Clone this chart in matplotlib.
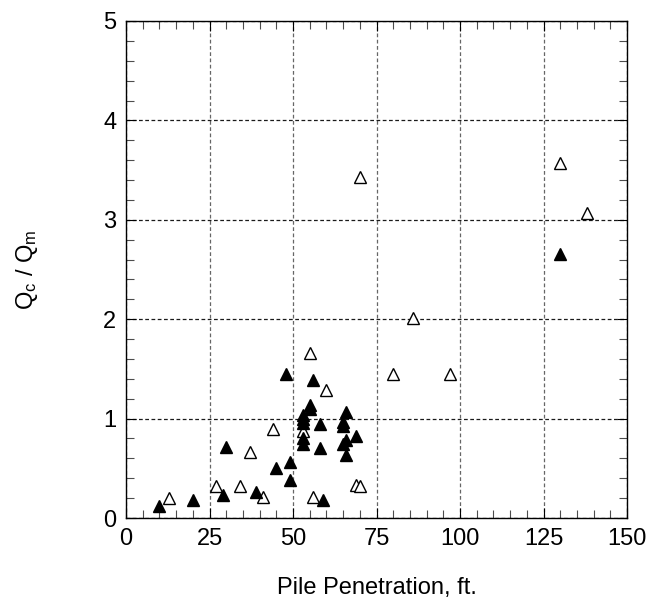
import matplotlib
matplotlib.use("Agg")
import matplotlib.pyplot as plt
from matplotlib.ticker import MultipleLocator

plt.rcParams['font.family'] = ['Liberation Sans', 'DejaVu Sans']
plt.rcParams['mathtext.default'] = 'regular'

# Solid triangles
solid_x = [10, 20, 29, 30, 39, 45, 48, 49, 49, 53, 53, 53, 53, 53, 55, 55, 56,
           58, 58, 59, 65, 65, 66, 65, 66, 66, 69, 130]
solid_y = [0.125, 0.185, 0.235, 0.71, 0.26, 0.50, 1.45, 0.56, 0.38, 1.04, 1.00,
           0.96, 0.80, 0.74, 1.14, 1.10, 1.39, 0.95, 0.70, 0.18, 0.97, 0.93,
           1.07, 0.74, 0.78, 0.63, 0.82, 2.66]

# Open triangles
open_x = [13, 27, 34, 37, 41, 44, 53, 55, 56, 60, 69, 70, 70, 80, 86, 97, 130, 138]
open_y = [0.205, 0.32, 0.32, 0.665, 0.21, 0.895, 0.88, 1.66, 0.21, 1.285, 0.335,
          0.325, 3.43, 1.45, 2.01, 1.45, 3.575, 3.07]

x_ticks = [0, 25, 50, 75, 100, 125, 150]
y_ticks = [0, 1, 2, 3, 4, 5]

fig = plt.figure(figsize=(6.53, 6.05), dpi=100)
ax = fig.add_axes([0.19296, 0.14380, 0.76724, 0.82149])

ax.xaxis.grid(True, which='major', color='0.4', linewidth=0.9, linestyle=(0, (3, 2)))
ax.yaxis.grid(True, which='major', color='0.1', linewidth=0.9, linestyle=(0, (3, 2)))
ax.set_axisbelow(True)

ax.plot(open_x, open_y, linestyle='none', marker='^', markersize=8,
        markerfacecolor='white', markeredgecolor='black', markeredgewidth=1.0,
        zorder=3)
ax.plot(solid_x, solid_y, linestyle='none', marker='^', markersize=8,
        markerfacecolor='black', markeredgecolor='black', markeredgewidth=1.0,
        zorder=4)

ax.set_xlim(0, 150)
ax.set_ylim(0, 5)
ax.set_xticks(x_ticks)
ax.set_yticks(y_ticks)
ax.xaxis.set_minor_locator(MultipleLocator(5))
ax.yaxis.set_minor_locator(MultipleLocator(0.2))

ax.tick_params(which='both', direction='in', top=True, right=True,
               labelsize=17, width=0.8, color='black')
ax.tick_params(which='major', length=7, pad=7)
ax.tick_params(which='minor', length=5.5, color='0.3')

for s in ax.spines.values():
    s.set_linewidth(1.0)
    s.set_color('black')

ax.set_xlabel('Pile Penetration, ft.', fontsize=17)
ax.set_ylabel('Q$_c$ / Q$_m$', fontsize=17)
ax.xaxis.set_label_coords(0.5, -0.118)
ax.yaxis.set_label_coords(-0.172, 0.5)

fig.savefig('out.png', dpi=100)
